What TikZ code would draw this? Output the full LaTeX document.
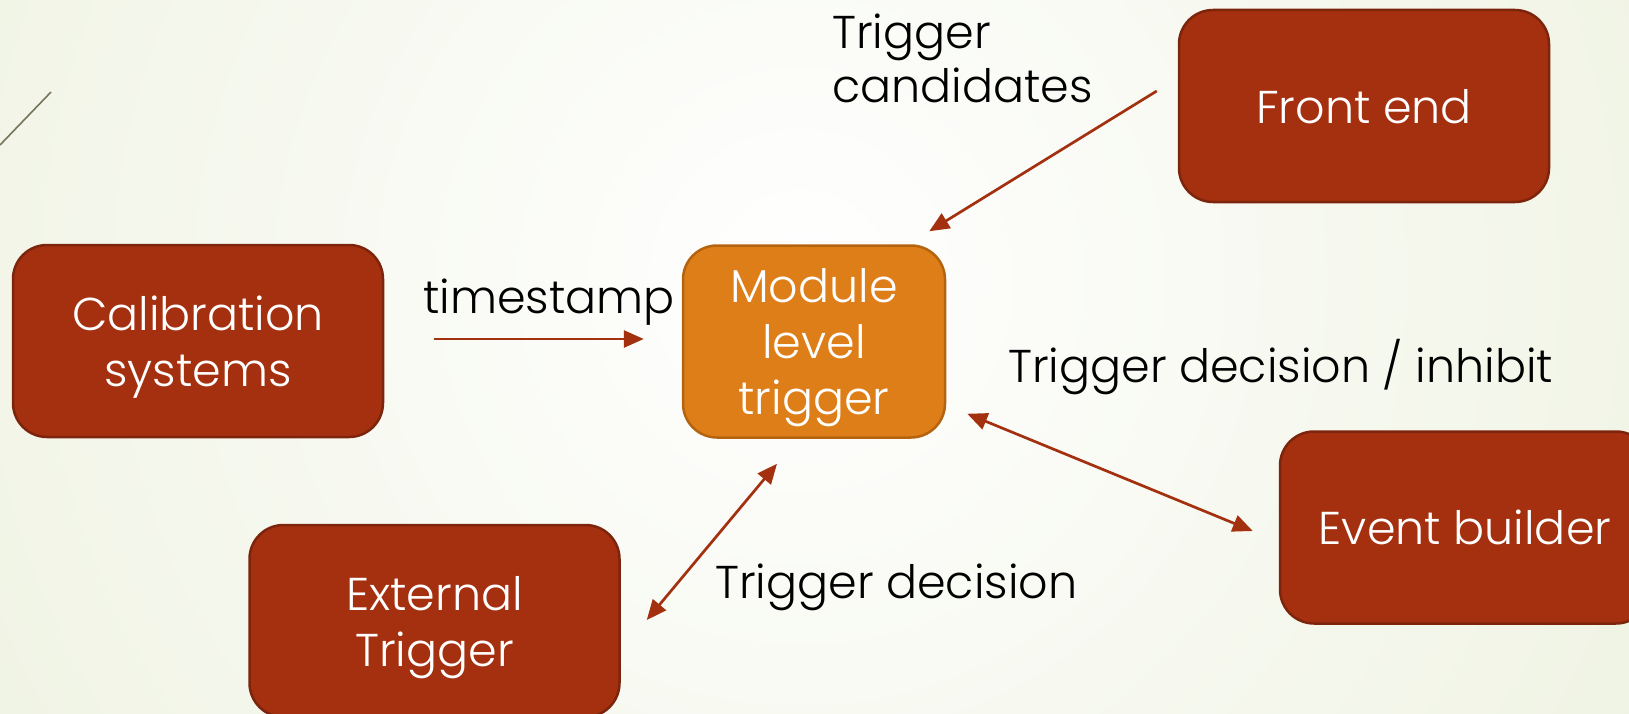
\documentclass[tikz,border=0pt]{standalone}
\usepackage{fontspec}
\IfFontExistsTF{Poppins Light}{\setmainfont{Poppins Light}}{\setmainfont{Poppins}}
\usetikzlibrary{arrows.meta,calc}

\definecolor{boxred}{HTML}{A53010}
\definecolor{boxredline}{HTML}{7C240C}
\definecolor{boxorange}{HTML}{DE7E18}
\definecolor{boxorangeline}{HTML}{B4640F}
\definecolor{arrowred}{HTML}{A3300F}
\definecolor{bgouter}{HTML}{E3EACD}
\definecolor{wispline}{HTML}{77745C}

\begin{document}
\begin{tikzpicture}[x=1pt,y=-1pt,
  blockbox/.style={draw=boxredline, fill=boxred, line width=2.5pt,
    rounded corners=34pt, text=white, align=center,
    minimum width=370pt, minimum height=192pt, inner sep=0pt,
    text depth=0pt, font=\fontsize{46}{56}\selectfont},
  corebox/.style={blockbox, draw=boxorangeline, fill=boxorange,
    minimum width=262pt},
  lbl/.style={text=black, inner sep=0pt, font=\fontsize{46}{54}\selectfont},
  arr/.style={draw=arrowred, line width=2.7pt,
    -{Triangle[length=20pt,width=17pt]}},
  darr/.style={arr, {Triangle[length=20pt,width=17pt]}-{Triangle[length=20pt,width=17pt]}}]

  % slide background
  \useasboundingbox (0,0) rectangle (1629,714);
  \fill[bgouter] (0,0) rectangle (1629,714);
  \begin{scope}
    \clip (0,0) rectangle (1629,714);
    \shade[inner color=white, outer color=bgouter] (800,280) circle (1700);
  \end{scope}
  \draw[wispline, line width=1.6pt] (0,145) -- (51,92);

  % blocks
  \node[blockbox] (cal) at (198,341) {Calibration\\systems};
  \node[corebox]  (mod) at (814,341.5) {Module\\level\\trigger};
  \node[blockbox] (fe)  at (1364,106) {Front end};
  \node[blockbox] (eb)  at (1465,527.5) {Event builder};
  \node[blockbox] (ext) at (434.5,621) {External\\Trigger};

  % connectors
  \draw[arr] ($(fe.west)+(-21,-15)$) -- ($(mod.north east)+(-17,-13)$);
  \draw[arr] ($(cal.east)+(50,-2)$) -- ($(mod.west)+(-38,-2.5)$);
  \draw[darr] ($(mod.south east)+(21,-25)$) -- ($(eb.west)+(-26,3.5)$);
  \draw[darr] ($(ext.east)+(26,-1)$) -- ($(mod.south)+(-37,25)$);

  % labels
  \node[lbl, anchor=north west, align=left] (lcand) at (832,14) {Trigger\\candidates};
  \node[lbl, anchor=base west] (lts) at (423,313) {timestamp};
  \node[lbl, anchor=base west] (linh) at (1008,382) {Trigger decision / inhibit};
  \node[lbl, anchor=base west] (ldec) at (715,598) {Trigger decision};
\end{tikzpicture}
\end{document}
